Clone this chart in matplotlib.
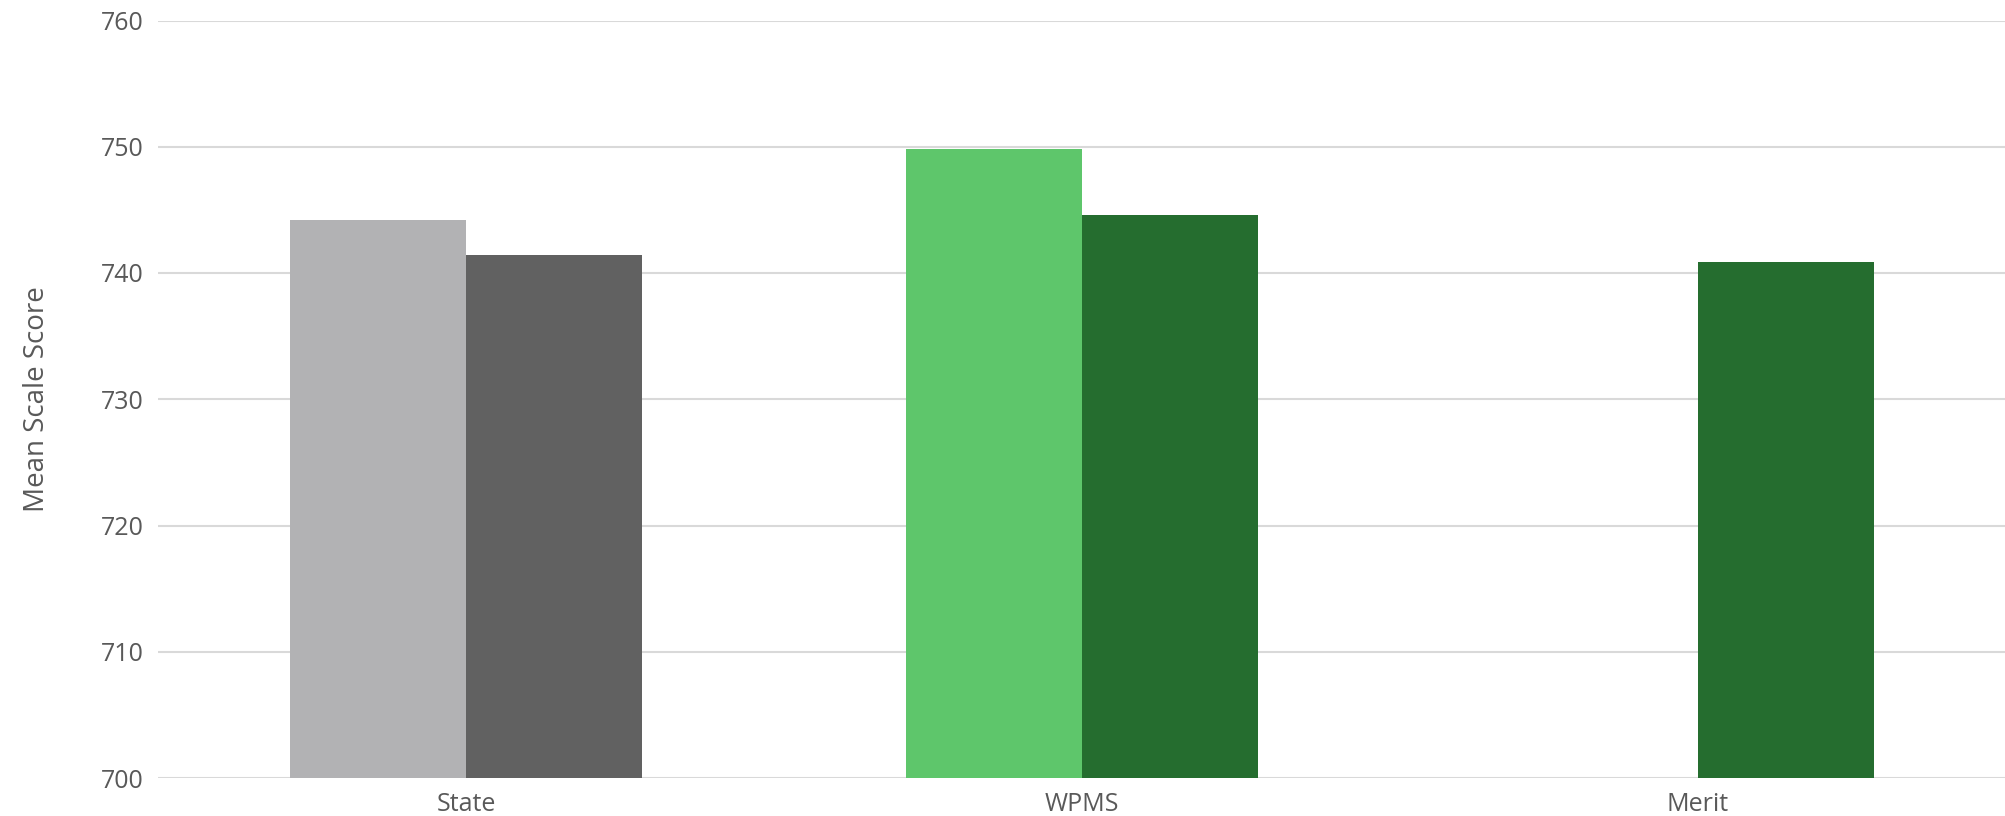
import matplotlib
matplotlib.use("Agg")
import matplotlib.pyplot as plt
import numpy as np

categories = ["State", "WPMS", "Merit"]
series1 = [744.2, 749.8, np.nan]   # earlier year (light)
series2 = [741.4, 744.6, 740.9]    # later year (dark)
colors1 = ["#b2b2b4", "#5ec66b", "#5ec66b"]
colors2 = ["#616161", "#256d2f", "#256d2f"]
yticks = [700, 710, 720, 730, 740, 750, 760]

plt.rcParams['font.family'] = ['Open Sans', 'DejaVu Sans']
fig = plt.figure(figsize=(20.06, 8.16), dpi=100)
ax = fig.add_axes([158/2006, 1 - 778/816, 1 - 158/2006, (778 - 20.5)/816])

x = np.arange(len(categories))
w = 0.285
ax.bar(x - w/2, series1, width=w, color=colors1, zorder=3)
ax.bar(x + w/2, series2, width=w, color=colors2, zorder=3)

ax.set_xlim(-0.5, 2.5)
ax.set_ylim(700, 760)
ax.set_yticks(yticks)
ax.set_xticks(x)
ax.set_xticklabels(categories)
ax.grid(axis='y', color='#d9d9d9', linewidth=1.5, zorder=0)
for s in ax.spines.values():
    s.set_visible(False)
ax.tick_params(axis='both', length=0, colors='#595959', labelsize=18)
ax.tick_params(axis='y', pad=10)
ax.tick_params(axis='x', pad=10)
ax.set_ylabel("Mean Scale Score", fontsize=20, color='#595959')
ax.yaxis.set_label_coords(-0.058, 0.5)

fig.savefig("out.png", dpi=100)
